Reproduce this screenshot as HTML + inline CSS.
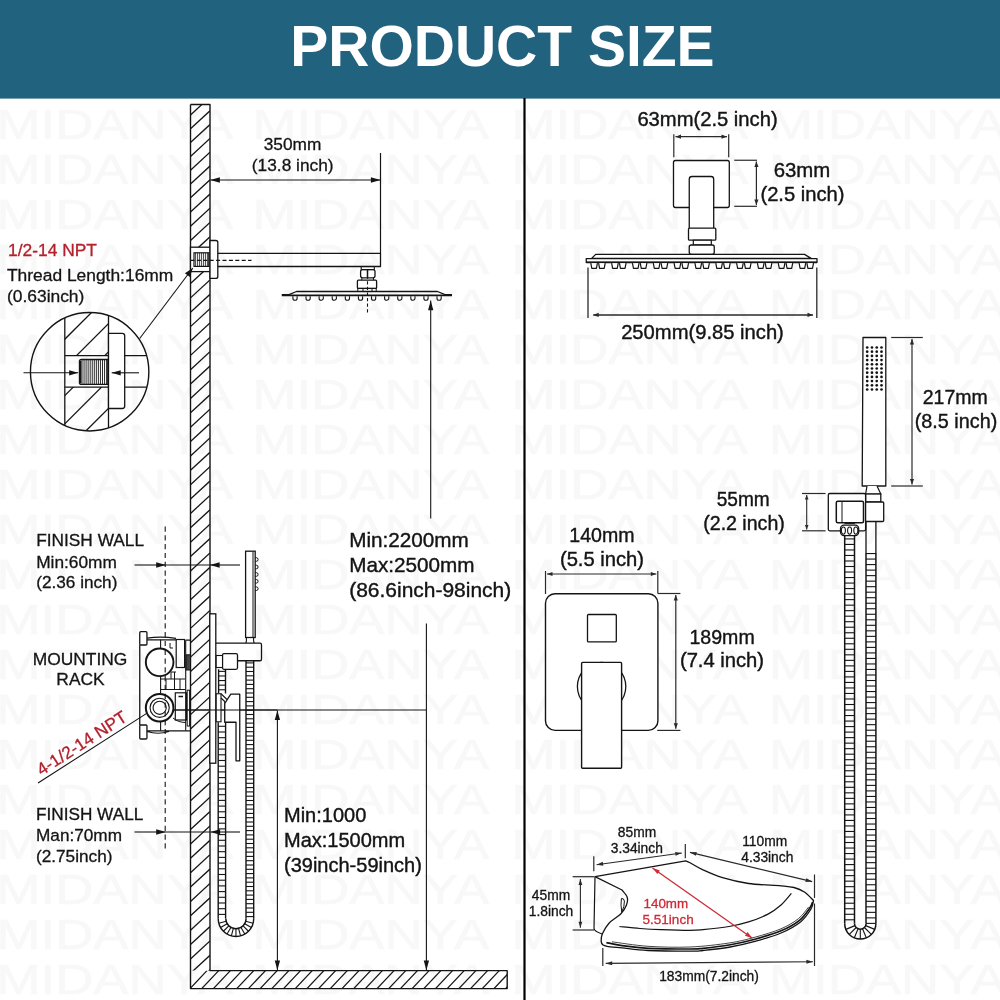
<!DOCTYPE html>
<html lang="en"><head><meta charset="utf-8"><title>Product Size</title>
<style>
html,body{margin:0;padding:0;background:#fff;}
body{width:1000px;height:1000px;overflow:hidden;}
svg{display:block;will-change:transform;font-family:"Liberation Sans",sans-serif;}
</style></head><body>
<svg width="1000" height="1000" viewBox="0 0 1000 1000">
<rect width="1000" height="1000" fill="#ffffff"/>
<g fill="#f8f8f8" stroke="#f8f8f8" stroke-width="0.7" font-size="42.5">
<text transform="translate(-3.5,138.7) scale(1.243,1)">MIDANYA</text>
<text transform="translate(252.5,138.7) scale(1.243,1)">MIDANYA</text>
<text transform="translate(511.5,138.7) scale(1.243,1)">MIDANYA</text>
<text transform="translate(769,138.7) scale(1.243,1)">MIDANYA</text>
<text transform="translate(-3.5,183.7) scale(1.243,1)">MIDANYA</text>
<text transform="translate(252.5,183.7) scale(1.243,1)">MIDANYA</text>
<text transform="translate(511.5,183.7) scale(1.243,1)">MIDANYA</text>
<text transform="translate(769,183.7) scale(1.243,1)">MIDANYA</text>
<text transform="translate(-3.5,228.7) scale(1.243,1)">MIDANYA</text>
<text transform="translate(252.5,228.7) scale(1.243,1)">MIDANYA</text>
<text transform="translate(511.5,228.7) scale(1.243,1)">MIDANYA</text>
<text transform="translate(769,228.7) scale(1.243,1)">MIDANYA</text>
<text transform="translate(-3.5,273.7) scale(1.243,1)">MIDANYA</text>
<text transform="translate(252.5,273.7) scale(1.243,1)">MIDANYA</text>
<text transform="translate(511.5,273.7) scale(1.243,1)">MIDANYA</text>
<text transform="translate(769,273.7) scale(1.243,1)">MIDANYA</text>
<text transform="translate(-3.5,318.7) scale(1.243,1)">MIDANYA</text>
<text transform="translate(252.5,318.7) scale(1.243,1)">MIDANYA</text>
<text transform="translate(511.5,318.7) scale(1.243,1)">MIDANYA</text>
<text transform="translate(769,318.7) scale(1.243,1)">MIDANYA</text>
<text transform="translate(-3.5,363.7) scale(1.243,1)">MIDANYA</text>
<text transform="translate(252.5,363.7) scale(1.243,1)">MIDANYA</text>
<text transform="translate(511.5,363.7) scale(1.243,1)">MIDANYA</text>
<text transform="translate(769,363.7) scale(1.243,1)">MIDANYA</text>
<text transform="translate(-3.5,408.7) scale(1.243,1)">MIDANYA</text>
<text transform="translate(252.5,408.7) scale(1.243,1)">MIDANYA</text>
<text transform="translate(511.5,408.7) scale(1.243,1)">MIDANYA</text>
<text transform="translate(769,408.7) scale(1.243,1)">MIDANYA</text>
<text transform="translate(-3.5,453.7) scale(1.243,1)">MIDANYA</text>
<text transform="translate(252.5,453.7) scale(1.243,1)">MIDANYA</text>
<text transform="translate(511.5,453.7) scale(1.243,1)">MIDANYA</text>
<text transform="translate(769,453.7) scale(1.243,1)">MIDANYA</text>
<text transform="translate(-3.5,498.7) scale(1.243,1)">MIDANYA</text>
<text transform="translate(252.5,498.7) scale(1.243,1)">MIDANYA</text>
<text transform="translate(511.5,498.7) scale(1.243,1)">MIDANYA</text>
<text transform="translate(769,498.7) scale(1.243,1)">MIDANYA</text>
<text transform="translate(-3.5,543.7) scale(1.243,1)">MIDANYA</text>
<text transform="translate(252.5,543.7) scale(1.243,1)">MIDANYA</text>
<text transform="translate(511.5,543.7) scale(1.243,1)">MIDANYA</text>
<text transform="translate(769,543.7) scale(1.243,1)">MIDANYA</text>
<text transform="translate(-3.5,588.7) scale(1.243,1)">MIDANYA</text>
<text transform="translate(252.5,588.7) scale(1.243,1)">MIDANYA</text>
<text transform="translate(511.5,588.7) scale(1.243,1)">MIDANYA</text>
<text transform="translate(769,588.7) scale(1.243,1)">MIDANYA</text>
<text transform="translate(-3.5,633.7) scale(1.243,1)">MIDANYA</text>
<text transform="translate(252.5,633.7) scale(1.243,1)">MIDANYA</text>
<text transform="translate(511.5,633.7) scale(1.243,1)">MIDANYA</text>
<text transform="translate(769,633.7) scale(1.243,1)">MIDANYA</text>
<text transform="translate(-3.5,678.7) scale(1.243,1)">MIDANYA</text>
<text transform="translate(252.5,678.7) scale(1.243,1)">MIDANYA</text>
<text transform="translate(511.5,678.7) scale(1.243,1)">MIDANYA</text>
<text transform="translate(769,678.7) scale(1.243,1)">MIDANYA</text>
<text transform="translate(-3.5,723.7) scale(1.243,1)">MIDANYA</text>
<text transform="translate(252.5,723.7) scale(1.243,1)">MIDANYA</text>
<text transform="translate(511.5,723.7) scale(1.243,1)">MIDANYA</text>
<text transform="translate(769,723.7) scale(1.243,1)">MIDANYA</text>
<text transform="translate(-3.5,768.7) scale(1.243,1)">MIDANYA</text>
<text transform="translate(252.5,768.7) scale(1.243,1)">MIDANYA</text>
<text transform="translate(511.5,768.7) scale(1.243,1)">MIDANYA</text>
<text transform="translate(769,768.7) scale(1.243,1)">MIDANYA</text>
<text transform="translate(-3.5,813.7) scale(1.243,1)">MIDANYA</text>
<text transform="translate(252.5,813.7) scale(1.243,1)">MIDANYA</text>
<text transform="translate(511.5,813.7) scale(1.243,1)">MIDANYA</text>
<text transform="translate(769,813.7) scale(1.243,1)">MIDANYA</text>
<text transform="translate(-3.5,858.7) scale(1.243,1)">MIDANYA</text>
<text transform="translate(252.5,858.7) scale(1.243,1)">MIDANYA</text>
<text transform="translate(511.5,858.7) scale(1.243,1)">MIDANYA</text>
<text transform="translate(769,858.7) scale(1.243,1)">MIDANYA</text>
<text transform="translate(-3.5,903.7) scale(1.243,1)">MIDANYA</text>
<text transform="translate(252.5,903.7) scale(1.243,1)">MIDANYA</text>
<text transform="translate(511.5,903.7) scale(1.243,1)">MIDANYA</text>
<text transform="translate(769,903.7) scale(1.243,1)">MIDANYA</text>
<text transform="translate(-3.5,948.7) scale(1.243,1)">MIDANYA</text>
<text transform="translate(252.5,948.7) scale(1.243,1)">MIDANYA</text>
<text transform="translate(511.5,948.7) scale(1.243,1)">MIDANYA</text>
<text transform="translate(769,948.7) scale(1.243,1)">MIDANYA</text>
<text transform="translate(-3.5,993.7) scale(1.243,1)">MIDANYA</text>
<text transform="translate(252.5,993.7) scale(1.243,1)">MIDANYA</text>
<text transform="translate(511.5,993.7) scale(1.243,1)">MIDANYA</text>
<text transform="translate(769,993.7) scale(1.243,1)">MIDANYA</text>
</g>
<rect x="0" y="0" width="1000" height="98.6" fill="#21627f"/>
<text x="502.4" y="65.8" font-size="57" text-anchor="middle" fill="#ffffff" font-weight="bold">PRODUCT SIZE</text>
<line x1="524.5" y1="98" x2="524.5" y2="1000" stroke="#000" stroke-width="2.2"/>
<defs><clipPath id="cw"><path d="M190.5,104.5 H210 V970.6 H190.5 Z"/></clipPath><clipPath id="cf"><path d="M190.5,970.6 H507.2 V988.6 H190.5 Z"/></clipPath></defs>
<g clip-path="url(#cw)" stroke="#141414" stroke-width="1.3">
<line x1="190.5" y1="115" x2="210" y2="97"/>
<line x1="190.5" y1="128.8" x2="210" y2="110.8"/>
<line x1="190.5" y1="142.6" x2="210" y2="124.6"/>
<line x1="190.5" y1="156.4" x2="210" y2="138.4"/>
<line x1="190.5" y1="170.2" x2="210" y2="152.2"/>
<line x1="190.5" y1="184" x2="210" y2="166"/>
<line x1="190.5" y1="197.8" x2="210" y2="179.8"/>
<line x1="190.5" y1="212" x2="210" y2="194"/>
<line x1="190.5" y1="226.2" x2="210" y2="208.2"/>
<line x1="190.5" y1="240.4" x2="210" y2="222.4"/>
<line x1="190.5" y1="254.77" x2="210" y2="236.77"/>
<line x1="190.5" y1="269.14" x2="210" y2="251.14"/>
<line x1="190.5" y1="283.51" x2="210" y2="265.51"/>
<line x1="190.5" y1="297.88" x2="210" y2="279.88"/>
<line x1="190.5" y1="312.25" x2="210" y2="294.25"/>
<line x1="190.5" y1="326.62" x2="210" y2="308.62"/>
<line x1="190.5" y1="340.99" x2="210" y2="322.99"/>
<line x1="190.5" y1="355.36" x2="210" y2="337.36"/>
<line x1="190.5" y1="369.73" x2="210" y2="351.73"/>
<line x1="190.5" y1="384.1" x2="210" y2="366.1"/>
<line x1="190.5" y1="398.47" x2="210" y2="380.47"/>
<line x1="190.5" y1="412.84" x2="210" y2="394.84"/>
<line x1="190.5" y1="427.21" x2="210" y2="409.21"/>
<line x1="190.5" y1="441.58" x2="210" y2="423.58"/>
<line x1="190.5" y1="455.95" x2="210" y2="437.95"/>
<line x1="190.5" y1="470.32" x2="210" y2="452.32"/>
<line x1="190.5" y1="484.69" x2="210" y2="466.69"/>
<line x1="190.5" y1="499.06" x2="210" y2="481.06"/>
<line x1="190.5" y1="513.43" x2="210" y2="495.43"/>
<line x1="190.5" y1="527.8" x2="210" y2="509.8"/>
<line x1="190.5" y1="542.17" x2="210" y2="524.17"/>
<line x1="190.5" y1="556.54" x2="210" y2="538.54"/>
<line x1="190.5" y1="570.91" x2="210" y2="552.91"/>
<line x1="190.5" y1="585.28" x2="210" y2="567.28"/>
<line x1="190.5" y1="599.65" x2="210" y2="581.65"/>
<line x1="190.5" y1="614.02" x2="210" y2="596.02"/>
<line x1="190.5" y1="628.39" x2="210" y2="610.39"/>
<line x1="190.5" y1="642.76" x2="210" y2="624.76"/>
<line x1="190.5" y1="657.13" x2="210" y2="639.13"/>
<line x1="190.5" y1="671.5" x2="210" y2="653.5"/>
<line x1="190.5" y1="685.87" x2="210" y2="667.87"/>
<line x1="190.5" y1="700.24" x2="210" y2="682.24"/>
<line x1="190.5" y1="714.61" x2="210" y2="696.61"/>
<line x1="190.5" y1="728.98" x2="210" y2="710.98"/>
<line x1="190.5" y1="743.35" x2="210" y2="725.35"/>
<line x1="190.5" y1="757.72" x2="210" y2="739.72"/>
<line x1="190.5" y1="772.09" x2="210" y2="754.09"/>
<line x1="190.5" y1="786.46" x2="210" y2="768.46"/>
<line x1="190.5" y1="800.83" x2="210" y2="782.83"/>
<line x1="190.5" y1="815.2" x2="210" y2="797.2"/>
<line x1="190.5" y1="829.57" x2="210" y2="811.57"/>
<line x1="190.5" y1="843.94" x2="210" y2="825.94"/>
<line x1="190.5" y1="858.31" x2="210" y2="840.31"/>
<line x1="190.5" y1="872.68" x2="210" y2="854.68"/>
<line x1="190.5" y1="887.05" x2="210" y2="869.05"/>
<line x1="190.5" y1="901.42" x2="210" y2="883.42"/>
<line x1="190.5" y1="915.79" x2="210" y2="897.79"/>
<line x1="190.5" y1="930.16" x2="210" y2="912.16"/>
<line x1="190.5" y1="944.53" x2="210" y2="926.53"/>
<line x1="190.5" y1="958.9" x2="210" y2="940.9"/>
<line x1="190.5" y1="973.27" x2="210" y2="955.27"/>
<line x1="190.5" y1="987.64" x2="210" y2="969.64"/>
<line x1="190.5" y1="1002.01" x2="210" y2="984.01"/>
</g>
<g clip-path="url(#cf)" stroke="#141414" stroke-width="1.3">
<line x1="190" y1="988.6" x2="207" y2="970.6"/>
<line x1="201.69" y1="988.6" x2="218.69" y2="970.6"/>
<line x1="213.38" y1="988.6" x2="230.38" y2="970.6"/>
<line x1="225.07" y1="988.6" x2="242.07" y2="970.6"/>
<line x1="236.76" y1="988.6" x2="253.76" y2="970.6"/>
<line x1="248.45" y1="988.6" x2="265.45" y2="970.6"/>
<line x1="260.14" y1="988.6" x2="277.14" y2="970.6"/>
<line x1="271.83" y1="988.6" x2="288.83" y2="970.6"/>
<line x1="283.52" y1="988.6" x2="300.52" y2="970.6"/>
<line x1="295.21" y1="988.6" x2="312.21" y2="970.6"/>
<line x1="306.9" y1="988.6" x2="323.9" y2="970.6"/>
<line x1="318.59" y1="988.6" x2="335.59" y2="970.6"/>
<line x1="330.28" y1="988.6" x2="347.28" y2="970.6"/>
<line x1="341.97" y1="988.6" x2="358.97" y2="970.6"/>
<line x1="353.66" y1="988.6" x2="370.66" y2="970.6"/>
<line x1="365.35" y1="988.6" x2="382.35" y2="970.6"/>
<line x1="377.04" y1="988.6" x2="394.04" y2="970.6"/>
<line x1="388.73" y1="988.6" x2="405.73" y2="970.6"/>
<line x1="400.42" y1="988.6" x2="417.42" y2="970.6"/>
<line x1="412.11" y1="988.6" x2="429.11" y2="970.6"/>
<line x1="423.8" y1="988.6" x2="440.8" y2="970.6"/>
<line x1="435.49" y1="988.6" x2="452.49" y2="970.6"/>
<line x1="447.18" y1="988.6" x2="464.18" y2="970.6"/>
<line x1="458.87" y1="988.6" x2="475.87" y2="970.6"/>
<line x1="470.56" y1="988.6" x2="487.56" y2="970.6"/>
<line x1="482.25" y1="988.6" x2="499.25" y2="970.6"/>
<line x1="493.94" y1="988.6" x2="510.94" y2="970.6"/>
<line x1="505.63" y1="988.6" x2="522.63" y2="970.6"/>
<line x1="517.32" y1="988.6" x2="534.32" y2="970.6"/>
<line x1="529.01" y1="988.6" x2="546.01" y2="970.6"/>
</g>
<path d="M190.5,104.5 H210 V970.6 H507.2 V988.6 H190.5 V104.5" fill="none" stroke="#141414" stroke-width="1.4" stroke-linejoin="round"/>
<line x1="210.3" y1="180" x2="380.5" y2="180" stroke="#141414" stroke-width="1.1"/>
<polygon points="380.5,180 370.9,182.65 370.9,177.35" fill="#141414"/>
<polygon points="210.3,180 219.9,177.35 219.9,182.65" fill="#141414"/>
<line x1="380.5" y1="153" x2="380.5" y2="253.4" stroke="#141414" stroke-width="1.2"/>
<text x="292.5" y="149.6" font-size="17.3" text-anchor="middle" fill="#141414" stroke="#141414" stroke-width="0.3">350mm</text>
<text x="292.7" y="171.3" font-size="17.3" text-anchor="middle" fill="#141414" stroke="#141414" stroke-width="0.3">(13.8 inch)</text>
<rect x="190.5" y="247.2" width="19.5" height="24.4" fill="#fff" stroke="#141414" stroke-width="1.3"/>
<g stroke="#141414" stroke-width="0.8">
<line x1="195.6" y1="252.8" x2="195.6" y2="266.4"/>
<line x1="197.6" y1="252.8" x2="197.6" y2="266.4"/>
<line x1="199.6" y1="252.8" x2="199.6" y2="266.4"/>
<line x1="201.6" y1="252.8" x2="201.6" y2="266.4"/>
<line x1="203.6" y1="252.8" x2="203.6" y2="266.4"/>
<line x1="205.6" y1="252.8" x2="205.6" y2="266.4"/>
<line x1="207.6" y1="252.8" x2="207.6" y2="266.4"/>
</g>
<rect x="194" y="252.8" width="14.8" height="13.6" fill="none" stroke="#141414" stroke-width="1.2"/>
<path d="M210,240.5 H215.8 Q217.8,240.5 217.8,242.5 V276.4 Q217.8,278.4 215.8,278.4 H210 Z" fill="#fff" stroke="#141414" stroke-width="1.3" stroke-linejoin="round"/>
<path d="M217.8,253.4 H380.5 V266.5 H217.8" fill="none" stroke="#141414" stroke-width="1.3" stroke-linejoin="round"/>
<line x1="190.5" y1="260.4" x2="251.5" y2="260.4" stroke="#141414" stroke-width="1.1" stroke-dasharray="4 2.4"/>
<rect x="361.2" y="266.5" width="13.1" height="3.1" fill="none" stroke="#141414" stroke-width="1.1"/>
<rect x="360.6" y="269.6" width="14.4" height="8.2" rx="2" fill="none" stroke="#141414" stroke-width="1.3"/>
<line x1="367.5" y1="270" x2="367.5" y2="277.5" stroke="#141414" stroke-width="1.5"/>
<line x1="361.8" y1="277.8" x2="361.8" y2="280.2" stroke="#141414" stroke-width="1.0"/>
<line x1="373.5" y1="277.8" x2="373.5" y2="280.2" stroke="#141414" stroke-width="1.0"/>
<rect x="357.4" y="280.2" width="19.2" height="8.2" rx="1" fill="none" stroke="#141414" stroke-width="1.3"/>
<rect x="357.8" y="288.4" width="18.4" height="3.1" fill="none" stroke="#141414" stroke-width="1.0"/>
<line x1="363" y1="288.4" x2="363" y2="291.5" stroke="#141414" stroke-width="1.0"/>
<line x1="372" y1="288.4" x2="372" y2="291.5" stroke="#141414" stroke-width="1.0"/>
<path d="M296.5,291.5 H437.5 L445,294.6 H452 M281.8,294.6 H289 L296.5,291.5" fill="none" stroke="#141414" stroke-width="1.3" stroke-linejoin="round"/>
<line x1="281.8" y1="295.4" x2="452" y2="295.4" stroke="#141414" stroke-width="1.8"/>
<path d="M292.9,296.2 V298.2 A2.1,2.1 0 0 0 297.1,298.2 V296.2" fill="none" stroke="#141414" stroke-width="1.1" stroke-linejoin="round"/>
<path d="M306,296.2 V298.2 A2.1,2.1 0 0 0 310.2,298.2 V296.2" fill="none" stroke="#141414" stroke-width="1.1" stroke-linejoin="round"/>
<path d="M319.1,296.2 V298.2 A2.1,2.1 0 0 0 323.3,298.2 V296.2" fill="none" stroke="#141414" stroke-width="1.1" stroke-linejoin="round"/>
<path d="M332.2,296.2 V298.2 A2.1,2.1 0 0 0 336.4,298.2 V296.2" fill="none" stroke="#141414" stroke-width="1.1" stroke-linejoin="round"/>
<path d="M345.3,296.2 V298.2 A2.1,2.1 0 0 0 349.5,298.2 V296.2" fill="none" stroke="#141414" stroke-width="1.1" stroke-linejoin="round"/>
<path d="M358.4,296.2 V298.2 A2.1,2.1 0 0 0 362.6,298.2 V296.2" fill="none" stroke="#141414" stroke-width="1.1" stroke-linejoin="round"/>
<path d="M371.5,296.2 V298.2 A2.1,2.1 0 0 0 375.7,298.2 V296.2" fill="none" stroke="#141414" stroke-width="1.1" stroke-linejoin="round"/>
<path d="M384.6,296.2 V298.2 A2.1,2.1 0 0 0 388.8,298.2 V296.2" fill="none" stroke="#141414" stroke-width="1.1" stroke-linejoin="round"/>
<path d="M397.7,296.2 V298.2 A2.1,2.1 0 0 0 401.9,298.2 V296.2" fill="none" stroke="#141414" stroke-width="1.1" stroke-linejoin="round"/>
<path d="M410.8,296.2 V298.2 A2.1,2.1 0 0 0 415,298.2 V296.2" fill="none" stroke="#141414" stroke-width="1.1" stroke-linejoin="round"/>
<path d="M423.9,296.2 V298.2 A2.1,2.1 0 0 0 428.1,298.2 V296.2" fill="none" stroke="#141414" stroke-width="1.1" stroke-linejoin="round"/>
<path d="M437,296.2 V298.2 A2.1,2.1 0 0 0 441.2,298.2 V296.2" fill="none" stroke="#141414" stroke-width="1.1" stroke-linejoin="round"/>
<line x1="367.5" y1="270" x2="367.5" y2="314.5" stroke="#141414" stroke-width="1.1" stroke-dasharray="3.2 2.4"/>
<line x1="430.7" y1="518.5" x2="430.7" y2="300.6" stroke="#141414" stroke-width="1.1"/>
<polygon points="430.7,300.6 433.35,310.2 428.05,310.2" fill="#141414"/>
<line x1="426.4" y1="623.6" x2="426.4" y2="970.2" stroke="#141414" stroke-width="1.1"/>
<polygon points="426.4,970.2 423.75,960.6 429.05,960.6" fill="#141414"/>
<text x="349.2" y="546.9" font-size="20.7" fill="#141414" stroke="#141414" stroke-width="0.4">Min:2200mm</text>
<text x="349.2" y="571.8" font-size="20.7" fill="#141414" stroke="#141414" stroke-width="0.4">Max:2500mm</text>
<text transform="translate(349.2,596.8) scale(1.014,1)" font-size="20.7" fill="#141414" stroke="#141414" stroke-width="0.4">(86.6inch-98inch)</text>
<line x1="173.6" y1="710" x2="426.4" y2="710" stroke="#141414" stroke-width="1.1"/>
<line x1="277.4" y1="710.4" x2="277.4" y2="970.2" stroke="#141414" stroke-width="1.1"/>
<polygon points="277.4,970.2 274.75,960.6 280.05,960.6" fill="#141414"/>
<polygon points="277.4,710.4 280.05,720 274.75,720" fill="#141414"/>
<text x="284" y="821.6" font-size="20" fill="#141414" stroke="#141414" stroke-width="0.4">Min:1000</text>
<text x="284" y="846.6" font-size="20" fill="#141414" stroke="#141414" stroke-width="0.4">Max:1500mm</text>
<text x="284" y="871.6" font-size="20" fill="#141414" stroke="#141414" stroke-width="0.4">(39inch-59inch)</text>
<text x="8" y="256.4" font-size="17.4" fill="#b3202c" stroke="#b3202c" stroke-width="0.3">1/2-14 NPT</text>
<text x="7" y="281.1" font-size="17.4" fill="#141414" stroke="#141414" stroke-width="0.3">Thread Length:16mm</text>
<text x="7" y="302.2" font-size="17.4" fill="#141414" stroke="#141414" stroke-width="0.3">(0.63inch)</text>
<defs><clipPath id="cc"><circle cx="89.65" cy="371.75" r="59.2"/></clipPath><clipPath id="ch"><path d="M64.8,300 H108.5 V355.7 H64.8 Z M64.8,387.1 H108.5 V440 H64.8 Z"/></clipPath></defs>
<g clip-path="url(#cc)">
<g clip-path="url(#ch)" stroke="#141414" stroke-width="1.3">
<line x1="60" y1="344" x2="112" y2="292"/>
<line x1="60" y1="372.2" x2="112" y2="320.2"/>
<line x1="60" y1="400.4" x2="112" y2="348.4"/>
<line x1="60" y1="428.6" x2="112" y2="376.6"/>
<line x1="60" y1="456.8" x2="112" y2="404.8"/>
</g>
<line x1="64.8" y1="300" x2="64.8" y2="440" stroke="#141414" stroke-width="1.3"/>
<line x1="108.5" y1="300" x2="108.5" y2="440" stroke="#141414" stroke-width="1.3"/>
<line x1="64.8" y1="355.7" x2="108.5" y2="355.7" stroke="#141414" stroke-width="1.3"/>
<line x1="64.8" y1="387.1" x2="108.5" y2="387.1" stroke="#141414" stroke-width="1.3"/>
<g stroke="#141414" stroke-width="0.9">
<line x1="82" y1="359.5" x2="82" y2="384.4"/>
<line x1="84.05" y1="359.5" x2="84.05" y2="384.4"/>
<line x1="86.1" y1="359.5" x2="86.1" y2="384.4"/>
<line x1="88.15" y1="359.5" x2="88.15" y2="384.4"/>
<line x1="90.2" y1="359.5" x2="90.2" y2="384.4"/>
<line x1="92.25" y1="359.5" x2="92.25" y2="384.4"/>
<line x1="94.3" y1="359.5" x2="94.3" y2="384.4"/>
<line x1="96.35" y1="359.5" x2="96.35" y2="384.4"/>
<line x1="98.4" y1="359.5" x2="98.4" y2="384.4"/>
<line x1="100.45" y1="359.5" x2="100.45" y2="384.4"/>
<line x1="102.5" y1="359.5" x2="102.5" y2="384.4"/>
<line x1="104.55" y1="359.5" x2="104.55" y2="384.4"/>
<line x1="106.6" y1="359.5" x2="106.6" y2="384.4"/>
</g>
<path d="M107.9,359.5 H81.5 Q79.5,359.5 79.5,361.5 V382.4 Q79.5,384.4 81.5,384.4 H107.9 Z" fill="none" stroke="#141414" stroke-width="1.4" stroke-linejoin="round"/>
<line x1="80.6" y1="361" x2="80.6" y2="383" stroke="#141414" stroke-width="1.6"/>
<path d="M108.5,333.3 H122.2 Q124.7,333.3 124.7,335.8 V406 Q124.7,408.5 122.2,408.5 H108.5 Z" fill="#fff" stroke="#141414" stroke-width="1.3" stroke-linejoin="round"/>
<line x1="124.7" y1="355.7" x2="150" y2="355.7" stroke="#141414" stroke-width="1.3"/>
<line x1="124.7" y1="387.1" x2="150" y2="387.1" stroke="#141414" stroke-width="1.3"/>
</g>
<circle cx="89.65" cy="371.75" r="59.2" fill="none" stroke="#141414" stroke-width="1.4"/>
<line x1="23.5" y1="372.8" x2="78.2" y2="372.8" stroke="#141414" stroke-width="1.1"/>
<polygon points="78.2,372.8 69.2,375.4 69.2,370.2" fill="#141414"/>
<line x1="139" y1="372.8" x2="111.7" y2="372.8" stroke="#141414" stroke-width="1.1"/>
<polygon points="111.7,372.8 120.7,370.2 120.7,375.4" fill="#141414"/>
<line x1="139.7" y1="338.5" x2="192.8" y2="268" stroke="#141414" stroke-width="1.1"/>
<polygon points="192.8,268 189.86,277.05 184.91,273.32" fill="#141414"/>
<text x="36.2" y="546.3" font-size="17.3" fill="#141414" stroke="#141414" stroke-width="0.3">FINISH WALL</text>
<text x="36.2" y="567.9" font-size="17.3" fill="#141414" stroke="#141414" stroke-width="0.3">Min:60mm</text>
<text x="36.2" y="587.6" font-size="17.2" fill="#141414" stroke="#141414" stroke-width="0.3">(2.36 inch)</text>
<line x1="134.5" y1="565" x2="165.8" y2="565" stroke="#141414" stroke-width="1.1"/>
<polygon points="165.8,565 156.2,567.65 156.2,562.35" fill="#141414"/>
<line x1="165.8" y1="565" x2="210" y2="565" stroke="#141414" stroke-width="1.1"/>
<line x1="240" y1="565" x2="210" y2="565" stroke="#141414" stroke-width="1.1"/>
<polygon points="210,565 219.6,562.35 219.6,567.65" fill="#141414"/>
<text x="80" y="664.6" font-size="17.4" text-anchor="middle" fill="#141414" stroke="#141414" stroke-width="0.3">MOUNTING</text>
<text x="80.5" y="685" font-size="17.4" text-anchor="middle" fill="#141414" stroke="#141414" stroke-width="0.3">RACK</text>
<text x="36" y="820" font-size="17.2" fill="#141414" stroke="#141414" stroke-width="0.3">FINISH WALL</text>
<text x="36" y="840.5" font-size="17.2" fill="#141414" stroke="#141414" stroke-width="0.3">Man:70mm</text>
<text x="36" y="861.5" font-size="17.2" fill="#141414" stroke="#141414" stroke-width="0.3">(2.75inch)</text>
<line x1="134.5" y1="832" x2="165.8" y2="832" stroke="#141414" stroke-width="1.1"/>
<polygon points="165.8,832 156.2,834.65 156.2,829.35" fill="#141414"/>
<line x1="165.8" y1="832" x2="210" y2="832" stroke="#141414" stroke-width="1.1"/>
<line x1="240" y1="832" x2="210.5" y2="832" stroke="#141414" stroke-width="1.1"/>
<polygon points="210.5,832 220.1,829.35 220.1,834.65" fill="#141414"/>
<line x1="38" y1="783" x2="146.3" y2="713.6" stroke="#141414" stroke-width="1.1"/>
<text x="0" y="0" font-size="17.2" fill="#b3202c" stroke="#b3202c" stroke-width="0.3" transform="translate(41.5,776) rotate(-32.8)">4-1/2-14 NPT</text>
<rect x="139.75" y="631.7" width="7.2" height="13.3" rx="1" fill="#fff" stroke="#141414" stroke-width="1.3"/>
<rect x="139.75" y="725" width="7.2" height="14" rx="1" fill="#fff" stroke="#141414" stroke-width="1.3"/>
<line x1="139.75" y1="645" x2="139.75" y2="725" stroke="#141414" stroke-width="1.3"/>
<path d="M147,638.2 Q161,636 176,638.4 M147,639.8 H176.2 M185.7,640.2 H190.5" fill="none" stroke="#141414" stroke-width="1.2" stroke-linejoin="round"/>
<path d="M147,730.8 H190.5 M147,731.5 Q158,735 169,731.5" fill="none" stroke="#141414" stroke-width="1.2" stroke-linejoin="round"/>
<line x1="160.6" y1="639.8" x2="160.6" y2="649" stroke="#141414" stroke-width="1.1"/>
<line x1="160.6" y1="676" x2="160.6" y2="693.5" stroke="#141414" stroke-width="1.1"/>
<line x1="160.6" y1="722" x2="160.6" y2="730.8" stroke="#141414" stroke-width="1.1"/>
<rect x="176.2" y="639.5" width="8.4" height="28" fill="none" stroke="#141414" stroke-width="1.2"/>
<line x1="185.7" y1="640.2" x2="185.7" y2="730.8" stroke="#141414" stroke-width="1.1"/>
<path d="M170,643 V648 H173 M176,672 H171 V679 M160.6,679 H185 M160.6,689.5 H185 M166,679 V689.5 M174.5,672 V689.5 M180,679 V689.5" fill="none" stroke="#141414" stroke-width="1.0" stroke-linejoin="round"/>
<rect x="186.2" y="654.8" width="4.3" height="15.2" fill="#444" stroke="#141414" stroke-width="1.0"/>
<rect x="175.3" y="692.8" width="11.1" height="27.2" fill="none" stroke="#141414" stroke-width="1.2"/>
<line x1="178.5" y1="696.5" x2="183" y2="696.5" stroke="#141414" stroke-width="1.5"/>
<rect x="187.2" y="690.2" width="2.4" height="35.8" fill="none" stroke="#141414" stroke-width="1.0"/>
<path d="M173,718 Q178,722.5 186,722.5" fill="none" stroke="#141414" stroke-width="1.0" stroke-linejoin="round"/>
<circle cx="159.65" cy="662.3" r="13.8" fill="#fff" stroke="#141414" stroke-width="1.9"/>
<circle cx="159.65" cy="707.8" r="13.8" fill="#fff" stroke="#141414" stroke-width="2.0"/>
<circle cx="159.65" cy="707.8" r="9.6" fill="none" stroke="#141414" stroke-width="1.1"/>
<circle cx="159.65" cy="707.8" r="6.6" fill="none" stroke="#141414" stroke-width="1.1"/>
<line x1="165.2" y1="526.5" x2="165.2" y2="851.2" stroke="#141414" stroke-width="1.1" stroke-dasharray="5.2 3.6"/>
<rect x="209.8" y="613.8" width="6" height="149.4" fill="#fff" stroke="#141414" stroke-width="1.3"/>
<rect x="245.6" y="551.2" width="9.6" height="86.3" fill="#fff" stroke="#141414" stroke-width="1.3"/>
<line x1="253" y1="552" x2="253" y2="637" stroke="#141414" stroke-width="1.0"/>
<path d="M255.2,557.7 H256.3 A1.8,1.8 0 0 1 256.3,561.3 H255.2" fill="none" stroke="#141414" stroke-width="1.0" stroke-linejoin="round"/>
<path d="M255.2,565.2 H256.3 A1.8,1.8 0 0 1 256.3,568.8 H255.2" fill="none" stroke="#141414" stroke-width="1.0" stroke-linejoin="round"/>
<path d="M255.2,572.7 H256.3 A1.8,1.8 0 0 1 256.3,576.3 H255.2" fill="none" stroke="#141414" stroke-width="1.0" stroke-linejoin="round"/>
<path d="M255.2,579.5 H256.3 A1.8,1.8 0 0 1 256.3,583.1 H255.2" fill="none" stroke="#141414" stroke-width="1.0" stroke-linejoin="round"/>
<path d="M255.2,586.9 H256.3 A1.8,1.8 0 0 1 256.3,590.5 H255.2" fill="none" stroke="#141414" stroke-width="1.0" stroke-linejoin="round"/>
<path d="M246.4,637.5 V641 L245.8,643.2 M253.6,637.5 V641 L254.2,643.2" fill="none" stroke="#141414" stroke-width="1.1" stroke-linejoin="round"/>
<line x1="218.6" y1="669.3" x2="218.6" y2="693.5" stroke="#141414" stroke-width="1.4"/>
<line x1="225.5" y1="669.3" x2="225.5" y2="693.5" stroke="#141414" stroke-width="1.4"/>
<g stroke="#141414" stroke-width="1.1">
<line x1="218.6" y1="671.37" x2="225.5" y2="671.37"/>
<line x1="218.6" y1="675.97" x2="225.5" y2="675.97"/>
<line x1="218.6" y1="680.57" x2="225.5" y2="680.57"/>
<line x1="218.6" y1="685.17" x2="225.5" y2="685.17"/>
<line x1="218.6" y1="689.77" x2="225.5" y2="689.77"/>
</g>
<line x1="218.2" y1="722.3" x2="218.2" y2="918.7" stroke="#141414" stroke-width="1.4"/>
<line x1="225.6" y1="722.3" x2="225.6" y2="918.7" stroke="#141414" stroke-width="1.4"/>
<g stroke="#141414" stroke-width="1.1">
<line x1="218.2" y1="726.29" x2="225.6" y2="726.29"/>
<line x1="218.2" y1="731.99" x2="225.6" y2="731.99"/>
<line x1="218.2" y1="737.69" x2="225.6" y2="737.69"/>
<line x1="218.2" y1="743.39" x2="225.6" y2="743.39"/>
<line x1="218.2" y1="749.09" x2="225.6" y2="749.09"/>
<line x1="218.2" y1="754.79" x2="225.6" y2="754.79"/>
<line x1="218.2" y1="760.49" x2="225.6" y2="760.49"/>
<line x1="218.2" y1="766.19" x2="225.6" y2="766.19"/>
<line x1="218.2" y1="771.89" x2="225.6" y2="771.89"/>
<line x1="218.2" y1="777.59" x2="225.6" y2="777.59"/>
<line x1="218.2" y1="783.29" x2="225.6" y2="783.29"/>
<line x1="218.2" y1="788.99" x2="225.6" y2="788.99"/>
<line x1="218.2" y1="794.69" x2="225.6" y2="794.69"/>
<line x1="218.2" y1="800.39" x2="225.6" y2="800.39"/>
<line x1="218.2" y1="806.09" x2="225.6" y2="806.09"/>
<line x1="218.2" y1="811.79" x2="225.6" y2="811.79"/>
<line x1="218.2" y1="817.49" x2="225.6" y2="817.49"/>
<line x1="218.2" y1="823.19" x2="225.6" y2="823.19"/>
<line x1="218.2" y1="828.89" x2="225.6" y2="828.89"/>
<line x1="218.2" y1="834.59" x2="225.6" y2="834.59"/>
<line x1="218.2" y1="840.29" x2="225.6" y2="840.29"/>
<line x1="218.2" y1="845.99" x2="225.6" y2="845.99"/>
<line x1="218.2" y1="851.69" x2="225.6" y2="851.69"/>
<line x1="218.2" y1="857.39" x2="225.6" y2="857.39"/>
<line x1="218.2" y1="863.09" x2="225.6" y2="863.09"/>
<line x1="218.2" y1="868.79" x2="225.6" y2="868.79"/>
<line x1="218.2" y1="874.49" x2="225.6" y2="874.49"/>
<line x1="218.2" y1="880.19" x2="225.6" y2="880.19"/>
<line x1="218.2" y1="885.89" x2="225.6" y2="885.89"/>
<line x1="218.2" y1="891.59" x2="225.6" y2="891.59"/>
<line x1="218.2" y1="897.29" x2="225.6" y2="897.29"/>
<line x1="218.2" y1="902.99" x2="225.6" y2="902.99"/>
<line x1="218.2" y1="908.69" x2="225.6" y2="908.69"/>
<line x1="218.2" y1="914.39" x2="225.6" y2="914.39"/>
</g>
<line x1="246" y1="660.75" x2="246" y2="918.7" stroke="#141414" stroke-width="1.4"/>
<line x1="253.7" y1="660.75" x2="253.7" y2="918.7" stroke="#141414" stroke-width="1.4"/>
<g stroke="#141414" stroke-width="1.1">
<line x1="246" y1="662.9" x2="253.7" y2="662.9"/>
<line x1="246" y1="667.2" x2="253.7" y2="667.2"/>
<line x1="246" y1="671.5" x2="253.7" y2="671.5"/>
<line x1="246" y1="675.8" x2="253.7" y2="675.8"/>
<line x1="246" y1="680.1" x2="253.7" y2="680.1"/>
<line x1="246" y1="684.4" x2="253.7" y2="684.4"/>
<line x1="246" y1="688.7" x2="253.7" y2="688.7"/>
<line x1="246" y1="693" x2="253.7" y2="693"/>
<line x1="246" y1="697.3" x2="253.7" y2="697.3"/>
<line x1="246" y1="701.6" x2="253.7" y2="701.6"/>
<line x1="246" y1="705.9" x2="253.7" y2="705.9"/>
<line x1="246" y1="710.2" x2="253.7" y2="710.2"/>
<line x1="246" y1="714.5" x2="253.7" y2="714.5"/>
<line x1="246" y1="718.8" x2="253.7" y2="718.8"/>
<line x1="246" y1="723.1" x2="253.7" y2="723.1"/>
<line x1="246" y1="727.4" x2="253.7" y2="727.4"/>
<line x1="246" y1="731.7" x2="253.7" y2="731.7"/>
<line x1="246" y1="736" x2="253.7" y2="736"/>
<line x1="246" y1="740.3" x2="253.7" y2="740.3"/>
<line x1="246" y1="744.6" x2="253.7" y2="744.6"/>
<line x1="246" y1="748.9" x2="253.7" y2="748.9"/>
<line x1="246" y1="753.2" x2="253.7" y2="753.2"/>
<line x1="246" y1="757.5" x2="253.7" y2="757.5"/>
<line x1="246" y1="761.8" x2="253.7" y2="761.8"/>
<line x1="246" y1="766.1" x2="253.7" y2="766.1"/>
<line x1="246" y1="770.4" x2="253.7" y2="770.4"/>
<line x1="246" y1="774.7" x2="253.7" y2="774.7"/>
<line x1="246" y1="779" x2="253.7" y2="779"/>
<line x1="246" y1="783.3" x2="253.7" y2="783.3"/>
<line x1="246" y1="787.6" x2="253.7" y2="787.6"/>
<line x1="246" y1="791.9" x2="253.7" y2="791.9"/>
<line x1="246" y1="796.2" x2="253.7" y2="796.2"/>
<line x1="246" y1="800.5" x2="253.7" y2="800.5"/>
<line x1="246" y1="804.8" x2="253.7" y2="804.8"/>
<line x1="246" y1="809.1" x2="253.7" y2="809.1"/>
<line x1="246" y1="813.4" x2="253.7" y2="813.4"/>
<line x1="246" y1="817.7" x2="253.7" y2="817.7"/>
<line x1="246" y1="822" x2="253.7" y2="822"/>
<line x1="246" y1="826.3" x2="253.7" y2="826.3"/>
<line x1="246" y1="830.6" x2="253.7" y2="830.6"/>
<line x1="246" y1="834.9" x2="253.7" y2="834.9"/>
<line x1="246" y1="839.2" x2="253.7" y2="839.2"/>
<line x1="246" y1="843.5" x2="253.7" y2="843.5"/>
<line x1="246" y1="847.8" x2="253.7" y2="847.8"/>
<line x1="246" y1="852.1" x2="253.7" y2="852.1"/>
<line x1="246" y1="856.4" x2="253.7" y2="856.4"/>
<line x1="246" y1="860.7" x2="253.7" y2="860.7"/>
<line x1="246" y1="865" x2="253.7" y2="865"/>
<line x1="246" y1="869.3" x2="253.7" y2="869.3"/>
<line x1="246" y1="873.6" x2="253.7" y2="873.6"/>
<line x1="246" y1="877.9" x2="253.7" y2="877.9"/>
<line x1="246" y1="882.2" x2="253.7" y2="882.2"/>
<line x1="246" y1="886.5" x2="253.7" y2="886.5"/>
<line x1="246" y1="890.8" x2="253.7" y2="890.8"/>
<line x1="246" y1="895.1" x2="253.7" y2="895.1"/>
<line x1="246" y1="899.4" x2="253.7" y2="899.4"/>
<line x1="246" y1="903.7" x2="253.7" y2="903.7"/>
<line x1="246" y1="908" x2="253.7" y2="908"/>
<line x1="246" y1="912.3" x2="253.7" y2="912.3"/>
<line x1="246" y1="916.6" x2="253.7" y2="916.6"/>
</g>
<path d="M218.2,918.7 A17.75,17.75 0 0 0 253.7,918.7" fill="none" stroke="#141414" stroke-width="1.4" stroke-linejoin="round"/>
<path d="M225.85,918.7 A10.1,10.1 0 0 0 246.05,918.7" fill="none" stroke="#141414" stroke-width="1.4" stroke-linejoin="round"/>
<g stroke="#141414" stroke-width="1.1">
<line x1="245.71" y1="921.31" x2="253.1" y2="923.29"/>
<line x1="244.7" y1="923.75" x2="251.32" y2="927.58"/>
<line x1="243.09" y1="925.84" x2="248.5" y2="931.25"/>
<line x1="241" y1="927.45" x2="244.82" y2="934.07"/>
<line x1="238.56" y1="928.46" x2="240.54" y2="935.85"/>
<line x1="235.95" y1="928.8" x2="235.95" y2="936.45"/>
<line x1="233.34" y1="928.46" x2="231.36" y2="935.85"/>
<line x1="230.9" y1="927.45" x2="227.07" y2="934.07"/>
<line x1="228.81" y1="925.84" x2="223.4" y2="931.25"/>
<line x1="227.2" y1="923.75" x2="220.58" y2="927.58"/>
<line x1="226.19" y1="921.31" x2="218.8" y2="923.29"/>
</g>
<path d="M215.8,643.2 H260 Q261.5,643.2 261.5,644.7 V659.2 Q261.5,660.75 260,660.75 H237.5" fill="none" stroke="#141414" stroke-width="1.3" stroke-linejoin="round"/>
<rect x="222.5" y="653.7" width="15" height="15.6" rx="1.5" fill="#fff" stroke="#141414" stroke-width="1.3"/>
<rect x="216.2" y="655.5" width="6.3" height="12" fill="#fff" stroke="#141414" stroke-width="1.1"/>
<rect x="216.2" y="693.75" width="4.8" height="28.05" fill="#fff" stroke="#141414" stroke-width="1.1"/>
<path d="M221,693.75 L227,699.5 M221,698 L224.75,701.5 V722.25" fill="none" stroke="#141414" stroke-width="1.1" stroke-linejoin="round"/>
<path d="M230.75,694.2 H239.75 V760.8 H236 V722.25 H224.75 V703.5 Z" fill="#fff" stroke="#141414" stroke-width="1.3" stroke-linejoin="round"/>
<line x1="173.6" y1="710" x2="277.4" y2="710" stroke="#141414" stroke-width="1.1"/>
<text x="707.5" y="125.5" font-size="20.2" text-anchor="middle" fill="#141414" stroke="#141414" stroke-width="0.4">63mm(2.5 inch)</text>
<line x1="675.5" y1="136.7" x2="727" y2="136.7" stroke="#2a2a2a" stroke-width="1.2"/>
<polygon points="727,136.7 721.5,138.8 721.5,134.6" fill="#2a2a2a"/>
<polygon points="675.5,136.7 681,134.6 681,138.8" fill="#2a2a2a"/>
<line x1="673.8" y1="134.3" x2="673.8" y2="157.2" stroke="#2a2a2a" stroke-width="1.2"/>
<line x1="728.7" y1="134.3" x2="728.7" y2="157.2" stroke="#2a2a2a" stroke-width="1.2"/>
<rect x="673.5" y="160.5" width="55.8" height="47" rx="2" fill="#fff" stroke="#141414" stroke-width="1.3"/>
<path d="M689.25,228.2 V179.2 Q689.25,176.5 692,176.5 H711 Q713.7,176.5 713.7,179.2 V228.2" fill="#fff" stroke="#141414" stroke-width="1.3" stroke-linejoin="round"/>
<rect x="688.5" y="228.2" width="27.3" height="12" rx="1" fill="#fff" stroke="#141414" stroke-width="1.3"/>
<rect x="693.3" y="240.2" width="18" height="4.8" fill="#fff" stroke="#141414" stroke-width="1.2"/>
<rect x="689.25" y="245" width="25" height="9.3" rx="2" fill="#fff" stroke="#141414" stroke-width="1.3"/>
<line x1="734.25" y1="160.25" x2="757" y2="160.25" stroke="#2a2a2a" stroke-width="1.2"/>
<line x1="734.25" y1="206.3" x2="757" y2="206.3" stroke="#2a2a2a" stroke-width="1.2"/>
<line x1="756.4" y1="161.5" x2="756.4" y2="205" stroke="#2a2a2a" stroke-width="1.2"/>
<polygon points="756.4,205 754.3,199.5 758.5,199.5" fill="#2a2a2a"/>
<polygon points="756.4,161.5 758.5,167 754.3,167" fill="#2a2a2a"/>
<text transform="translate(802,176.7) scale(1.01,1)" font-size="20.2" text-anchor="middle" fill="#141414" stroke="#141414" stroke-width="0.4">63mm</text>
<text x="802.5" y="200.5" font-size="20.2" text-anchor="middle" fill="#141414" stroke="#141414" stroke-width="0.4">(2.5 inch)</text>
<path d="M595.7,254.4 H804.5 L811.2,258.4 H591.6 Z" fill="#fff" stroke="#141414" stroke-width="1.3" stroke-linejoin="round"/>
<path d="M586.25,258.6 H817 V262.4 H586.25 Z" fill="#fff" stroke="#141414" stroke-width="1.3" stroke-linejoin="round"/>
<line x1="586.25" y1="262.4" x2="817" y2="262.4" stroke="#141414" stroke-width="1.9"/>
<path d="M590.8,263.2 L591.8,268.3 H596.4 L597.4,263.2" fill="#fff" stroke="#141414" stroke-width="1.2" stroke-linejoin="round"/>
<path d="M598.6,263.2 L599.6,268.3 H604.2 L605.2,263.2" fill="#fff" stroke="#141414" stroke-width="1.2" stroke-linejoin="round"/>
<path d="M611.63,263.2 L612.63,268.3 H617.23 L618.23,263.2" fill="#fff" stroke="#141414" stroke-width="1.2" stroke-linejoin="round"/>
<path d="M619.43,263.2 L620.43,268.3 H625.03 L626.03,263.2" fill="#fff" stroke="#141414" stroke-width="1.2" stroke-linejoin="round"/>
<path d="M632.46,263.2 L633.46,268.3 H638.06 L639.06,263.2" fill="#fff" stroke="#141414" stroke-width="1.2" stroke-linejoin="round"/>
<path d="M640.26,263.2 L641.26,268.3 H645.86 L646.86,263.2" fill="#fff" stroke="#141414" stroke-width="1.2" stroke-linejoin="round"/>
<path d="M653.29,263.2 L654.29,268.3 H658.89 L659.89,263.2" fill="#fff" stroke="#141414" stroke-width="1.2" stroke-linejoin="round"/>
<path d="M661.09,263.2 L662.09,268.3 H666.69 L667.69,263.2" fill="#fff" stroke="#141414" stroke-width="1.2" stroke-linejoin="round"/>
<path d="M674.12,263.2 L675.12,268.3 H679.72 L680.72,263.2" fill="#fff" stroke="#141414" stroke-width="1.2" stroke-linejoin="round"/>
<path d="M681.92,263.2 L682.92,268.3 H687.52 L688.52,263.2" fill="#fff" stroke="#141414" stroke-width="1.2" stroke-linejoin="round"/>
<path d="M694.95,263.2 L695.95,268.3 H700.55 L701.55,263.2" fill="#fff" stroke="#141414" stroke-width="1.2" stroke-linejoin="round"/>
<path d="M702.75,263.2 L703.75,268.3 H708.35 L709.35,263.2" fill="#fff" stroke="#141414" stroke-width="1.2" stroke-linejoin="round"/>
<path d="M715.78,263.2 L716.78,268.3 H721.38 L722.38,263.2" fill="#fff" stroke="#141414" stroke-width="1.2" stroke-linejoin="round"/>
<path d="M723.58,263.2 L724.58,268.3 H729.18 L730.18,263.2" fill="#fff" stroke="#141414" stroke-width="1.2" stroke-linejoin="round"/>
<path d="M736.61,263.2 L737.61,268.3 H742.21 L743.21,263.2" fill="#fff" stroke="#141414" stroke-width="1.2" stroke-linejoin="round"/>
<path d="M744.41,263.2 L745.41,268.3 H750.01 L751.01,263.2" fill="#fff" stroke="#141414" stroke-width="1.2" stroke-linejoin="round"/>
<path d="M757.44,263.2 L758.44,268.3 H763.04 L764.04,263.2" fill="#fff" stroke="#141414" stroke-width="1.2" stroke-linejoin="round"/>
<path d="M765.24,263.2 L766.24,268.3 H770.84 L771.84,263.2" fill="#fff" stroke="#141414" stroke-width="1.2" stroke-linejoin="round"/>
<path d="M778.27,263.2 L779.27,268.3 H783.87 L784.87,263.2" fill="#fff" stroke="#141414" stroke-width="1.2" stroke-linejoin="round"/>
<path d="M786.07,263.2 L787.07,268.3 H791.67 L792.67,263.2" fill="#fff" stroke="#141414" stroke-width="1.2" stroke-linejoin="round"/>
<path d="M799.1,263.2 L800.1,268.3 H804.7 L805.7,263.2" fill="#fff" stroke="#141414" stroke-width="1.2" stroke-linejoin="round"/>
<path d="M806.9,263.2 L807.9,268.3 H812.5 L813.5,263.2" fill="#fff" stroke="#141414" stroke-width="1.2" stroke-linejoin="round"/>
<line x1="588" y1="267.6" x2="588" y2="318" stroke="#2a2a2a" stroke-width="1.3"/>
<line x1="816.8" y1="267.6" x2="816.8" y2="318" stroke="#2a2a2a" stroke-width="1.3"/>
<line x1="593.2" y1="314.9" x2="813" y2="314.9" stroke="#2a2a2a" stroke-width="1.5"/>
<polygon points="813,314.9 807.5,317 807.5,312.8" fill="#2a2a2a"/>
<polygon points="593.2,314.9 598.7,312.8 598.7,317" fill="#2a2a2a"/>
<text x="702.5" y="338.5" font-size="20.2" text-anchor="middle" fill="#141414" stroke="#141414" stroke-width="0.4">250mm(9.85 inch)</text>
<path d="M863,337.5 H885.8 V486 H862.2 Z" fill="#fff" stroke="#141414" stroke-width="1.3" stroke-linejoin="round"/>
<g fill="#141414">
<circle cx="867.2" cy="347.5" r="1.35"/>
<circle cx="871.97" cy="347.5" r="1.35"/>
<circle cx="876.74" cy="347.5" r="1.35"/>
<circle cx="881.51" cy="347.5" r="1.35"/>
<circle cx="867.2" cy="351.7" r="1.35"/>
<circle cx="871.97" cy="351.7" r="1.35"/>
<circle cx="876.74" cy="351.7" r="1.35"/>
<circle cx="881.51" cy="351.7" r="1.35"/>
<circle cx="867.2" cy="355.9" r="1.35"/>
<circle cx="871.97" cy="355.9" r="1.35"/>
<circle cx="876.74" cy="355.9" r="1.35"/>
<circle cx="881.51" cy="355.9" r="1.35"/>
<circle cx="867.2" cy="360.1" r="1.35"/>
<circle cx="871.97" cy="360.1" r="1.35"/>
<circle cx="876.74" cy="360.1" r="1.35"/>
<circle cx="881.51" cy="360.1" r="1.35"/>
<circle cx="867.2" cy="364.3" r="1.35"/>
<circle cx="871.97" cy="364.3" r="1.35"/>
<circle cx="876.74" cy="364.3" r="1.35"/>
<circle cx="881.51" cy="364.3" r="1.35"/>
<circle cx="867.2" cy="368.5" r="1.35"/>
<circle cx="871.97" cy="368.5" r="1.35"/>
<circle cx="876.74" cy="368.5" r="1.35"/>
<circle cx="881.51" cy="368.5" r="1.35"/>
<circle cx="867.2" cy="372.7" r="1.35"/>
<circle cx="871.97" cy="372.7" r="1.35"/>
<circle cx="876.74" cy="372.7" r="1.35"/>
<circle cx="881.51" cy="372.7" r="1.35"/>
<circle cx="867.2" cy="376.9" r="1.35"/>
<circle cx="871.97" cy="376.9" r="1.35"/>
<circle cx="876.74" cy="376.9" r="1.35"/>
<circle cx="881.51" cy="376.9" r="1.35"/>
<circle cx="867.2" cy="381.1" r="1.35"/>
<circle cx="871.97" cy="381.1" r="1.35"/>
<circle cx="876.74" cy="381.1" r="1.35"/>
<circle cx="881.51" cy="381.1" r="1.35"/>
<circle cx="867.2" cy="385.3" r="1.35"/>
<circle cx="871.97" cy="385.3" r="1.35"/>
<circle cx="876.74" cy="385.3" r="1.35"/>
<circle cx="881.51" cy="385.3" r="1.35"/>
<circle cx="867.2" cy="389.5" r="1.35"/>
<circle cx="871.97" cy="389.5" r="1.35"/>
<circle cx="876.74" cy="389.5" r="1.35"/>
<circle cx="881.51" cy="389.5" r="1.35"/>
</g>
<line x1="891.2" y1="337.5" x2="922.8" y2="337.5" stroke="#2a2a2a" stroke-width="1.2"/>
<line x1="891.2" y1="486" x2="922.8" y2="486" stroke="#2a2a2a" stroke-width="1.2"/>
<line x1="912" y1="339" x2="912" y2="484.5" stroke="#2a2a2a" stroke-width="1.2"/>
<polygon points="912,484.5 909.9,479 914.1,479" fill="#2a2a2a"/>
<polygon points="912,339 914.1,344.5 909.9,344.5" fill="#2a2a2a"/>
<text transform="translate(955.2,404) scale(0.966,1)" font-size="20.2" text-anchor="middle" fill="#141414" stroke="#141414" stroke-width="0.4">217mm</text>
<text transform="translate(956,428.4) scale(0.98,1)" font-size="20.2" text-anchor="middle" fill="#141414" stroke="#141414" stroke-width="0.4">(8.5 inch)</text>
<path d="M867,486 L865.6,494 H880.8 L877,486" fill="#fff" stroke="#141414" stroke-width="1.2" stroke-linejoin="round"/>
<rect x="865.6" y="494" width="15.2" height="8" fill="#fff" stroke="#141414" stroke-width="1.3"/>
<rect x="828.3" y="493.5" width="37.3" height="37.3" rx="1.5" fill="#fff" stroke="#141414" stroke-width="1.3"/>
<rect x="836.3" y="501.2" width="27.2" height="21.6" rx="1.5" fill="#fff" stroke="#141414" stroke-width="1.5"/>
<line x1="842" y1="501.5" x2="842" y2="522.5" stroke="#141414" stroke-width="1.0"/>
<rect x="865.6" y="502" width="18.1" height="19.5" rx="1" fill="#fff" stroke="#141414" stroke-width="1.3"/>
<rect x="840.5" y="525.2" width="18.2" height="10.4" rx="3.5" fill="#fff" stroke="#141414" stroke-width="1.3"/>
<ellipse cx="843.4" cy="530.6" rx="2" ry="3.6" fill="none" stroke="#141414" stroke-width="1.1"/>
<ellipse cx="849.6" cy="530.6" rx="2" ry="3.6" fill="none" stroke="#141414" stroke-width="1.1"/>
<ellipse cx="855.8" cy="530.6" rx="2" ry="3.6" fill="none" stroke="#141414" stroke-width="1.1"/>
<line x1="844.5" y1="523.6" x2="855" y2="523.6" stroke="#141414" stroke-width="1.0"/>
<line x1="802" y1="493.5" x2="825.6" y2="493.5" stroke="#2a2a2a" stroke-width="1.2"/>
<line x1="802" y1="530.8" x2="825.6" y2="530.8" stroke="#2a2a2a" stroke-width="1.2"/>
<line x1="806.7" y1="495" x2="806.7" y2="529.5" stroke="#2a2a2a" stroke-width="1.1"/>
<polygon points="806.7,529.5 804.9,525 808.5,525" fill="#2a2a2a"/>
<polygon points="806.7,495 808.5,499.5 804.9,499.5" fill="#2a2a2a"/>
<text transform="translate(743.2,505.6) scale(0.945,1)" font-size="20.2" text-anchor="middle" fill="#141414" stroke="#141414" stroke-width="0.4">55mm</text>
<text transform="translate(744,529.6) scale(0.969,1)" font-size="20.2" text-anchor="middle" fill="#141414" stroke="#141414" stroke-width="0.4">(2.2 inch)</text>
<line x1="844.7" y1="535.6" x2="844.7" y2="923.4" stroke="#141414" stroke-width="1.5"/>
<line x1="854.5" y1="535.6" x2="854.5" y2="923.4" stroke="#141414" stroke-width="1.5"/>
<g stroke="#141414" stroke-width="1.1">
<line x1="844.7" y1="538.91" x2="854.5" y2="538.91"/>
<line x1="844.7" y1="544.43" x2="854.5" y2="544.43"/>
<line x1="844.7" y1="549.95" x2="854.5" y2="549.95"/>
<line x1="844.7" y1="555.47" x2="854.5" y2="555.47"/>
<line x1="844.7" y1="560.99" x2="854.5" y2="560.99"/>
<line x1="844.7" y1="566.51" x2="854.5" y2="566.51"/>
<line x1="844.7" y1="572.03" x2="854.5" y2="572.03"/>
<line x1="844.7" y1="577.55" x2="854.5" y2="577.55"/>
<line x1="844.7" y1="583.07" x2="854.5" y2="583.07"/>
<line x1="844.7" y1="588.59" x2="854.5" y2="588.59"/>
<line x1="844.7" y1="594.11" x2="854.5" y2="594.11"/>
<line x1="844.7" y1="599.63" x2="854.5" y2="599.63"/>
<line x1="844.7" y1="605.15" x2="854.5" y2="605.15"/>
<line x1="844.7" y1="610.67" x2="854.5" y2="610.67"/>
<line x1="844.7" y1="616.19" x2="854.5" y2="616.19"/>
<line x1="844.7" y1="621.71" x2="854.5" y2="621.71"/>
<line x1="844.7" y1="627.23" x2="854.5" y2="627.23"/>
<line x1="844.7" y1="632.75" x2="854.5" y2="632.75"/>
<line x1="844.7" y1="638.27" x2="854.5" y2="638.27"/>
<line x1="844.7" y1="643.79" x2="854.5" y2="643.79"/>
<line x1="844.7" y1="649.31" x2="854.5" y2="649.31"/>
<line x1="844.7" y1="654.83" x2="854.5" y2="654.83"/>
<line x1="844.7" y1="660.35" x2="854.5" y2="660.35"/>
<line x1="844.7" y1="665.87" x2="854.5" y2="665.87"/>
<line x1="844.7" y1="671.39" x2="854.5" y2="671.39"/>
<line x1="844.7" y1="676.91" x2="854.5" y2="676.91"/>
<line x1="844.7" y1="682.43" x2="854.5" y2="682.43"/>
<line x1="844.7" y1="687.95" x2="854.5" y2="687.95"/>
<line x1="844.7" y1="693.47" x2="854.5" y2="693.47"/>
<line x1="844.7" y1="698.99" x2="854.5" y2="698.99"/>
<line x1="844.7" y1="704.51" x2="854.5" y2="704.51"/>
<line x1="844.7" y1="710.03" x2="854.5" y2="710.03"/>
<line x1="844.7" y1="715.55" x2="854.5" y2="715.55"/>
<line x1="844.7" y1="721.07" x2="854.5" y2="721.07"/>
<line x1="844.7" y1="726.59" x2="854.5" y2="726.59"/>
<line x1="844.7" y1="732.11" x2="854.5" y2="732.11"/>
<line x1="844.7" y1="737.63" x2="854.5" y2="737.63"/>
<line x1="844.7" y1="743.15" x2="854.5" y2="743.15"/>
<line x1="844.7" y1="748.67" x2="854.5" y2="748.67"/>
<line x1="844.7" y1="754.19" x2="854.5" y2="754.19"/>
<line x1="844.7" y1="759.71" x2="854.5" y2="759.71"/>
<line x1="844.7" y1="765.23" x2="854.5" y2="765.23"/>
<line x1="844.7" y1="770.75" x2="854.5" y2="770.75"/>
<line x1="844.7" y1="776.27" x2="854.5" y2="776.27"/>
<line x1="844.7" y1="781.79" x2="854.5" y2="781.79"/>
<line x1="844.7" y1="787.31" x2="854.5" y2="787.31"/>
<line x1="844.7" y1="792.83" x2="854.5" y2="792.83"/>
<line x1="844.7" y1="798.35" x2="854.5" y2="798.35"/>
<line x1="844.7" y1="803.87" x2="854.5" y2="803.87"/>
<line x1="844.7" y1="809.39" x2="854.5" y2="809.39"/>
<line x1="844.7" y1="814.91" x2="854.5" y2="814.91"/>
<line x1="844.7" y1="820.43" x2="854.5" y2="820.43"/>
<line x1="844.7" y1="825.95" x2="854.5" y2="825.95"/>
<line x1="844.7" y1="831.47" x2="854.5" y2="831.47"/>
<line x1="844.7" y1="836.99" x2="854.5" y2="836.99"/>
<line x1="844.7" y1="842.51" x2="854.5" y2="842.51"/>
<line x1="844.7" y1="848.03" x2="854.5" y2="848.03"/>
<line x1="844.7" y1="853.55" x2="854.5" y2="853.55"/>
<line x1="844.7" y1="859.07" x2="854.5" y2="859.07"/>
<line x1="844.7" y1="864.59" x2="854.5" y2="864.59"/>
<line x1="844.7" y1="870.11" x2="854.5" y2="870.11"/>
<line x1="844.7" y1="875.63" x2="854.5" y2="875.63"/>
<line x1="844.7" y1="881.15" x2="854.5" y2="881.15"/>
<line x1="844.7" y1="886.67" x2="854.5" y2="886.67"/>
<line x1="844.7" y1="892.19" x2="854.5" y2="892.19"/>
<line x1="844.7" y1="897.71" x2="854.5" y2="897.71"/>
<line x1="844.7" y1="903.23" x2="854.5" y2="903.23"/>
<line x1="844.7" y1="908.75" x2="854.5" y2="908.75"/>
<line x1="844.7" y1="914.27" x2="854.5" y2="914.27"/>
<line x1="844.7" y1="919.79" x2="854.5" y2="919.79"/>
</g>
<line x1="866" y1="521.5" x2="866" y2="553" stroke="#141414" stroke-width="1.3"/>
<line x1="875.9" y1="521.5" x2="875.9" y2="553" stroke="#141414" stroke-width="1.3"/>
<line x1="866" y1="553" x2="866" y2="923.4" stroke="#141414" stroke-width="1.5"/>
<line x1="875.9" y1="553" x2="875.9" y2="923.4" stroke="#141414" stroke-width="1.5"/>
<g stroke="#141414" stroke-width="1.1">
<line x1="866" y1="553.55" x2="875.9" y2="553.55"/>
<line x1="866" y1="559.07" x2="875.9" y2="559.07"/>
<line x1="866" y1="564.59" x2="875.9" y2="564.59"/>
<line x1="866" y1="570.11" x2="875.9" y2="570.11"/>
<line x1="866" y1="575.63" x2="875.9" y2="575.63"/>
<line x1="866" y1="581.15" x2="875.9" y2="581.15"/>
<line x1="866" y1="586.67" x2="875.9" y2="586.67"/>
<line x1="866" y1="592.19" x2="875.9" y2="592.19"/>
<line x1="866" y1="597.71" x2="875.9" y2="597.71"/>
<line x1="866" y1="603.23" x2="875.9" y2="603.23"/>
<line x1="866" y1="608.75" x2="875.9" y2="608.75"/>
<line x1="866" y1="614.27" x2="875.9" y2="614.27"/>
<line x1="866" y1="619.79" x2="875.9" y2="619.79"/>
<line x1="866" y1="625.31" x2="875.9" y2="625.31"/>
<line x1="866" y1="630.83" x2="875.9" y2="630.83"/>
<line x1="866" y1="636.35" x2="875.9" y2="636.35"/>
<line x1="866" y1="641.87" x2="875.9" y2="641.87"/>
<line x1="866" y1="647.39" x2="875.9" y2="647.39"/>
<line x1="866" y1="652.91" x2="875.9" y2="652.91"/>
<line x1="866" y1="658.43" x2="875.9" y2="658.43"/>
<line x1="866" y1="663.95" x2="875.9" y2="663.95"/>
<line x1="866" y1="669.47" x2="875.9" y2="669.47"/>
<line x1="866" y1="674.99" x2="875.9" y2="674.99"/>
<line x1="866" y1="680.51" x2="875.9" y2="680.51"/>
<line x1="866" y1="686.03" x2="875.9" y2="686.03"/>
<line x1="866" y1="691.55" x2="875.9" y2="691.55"/>
<line x1="866" y1="697.07" x2="875.9" y2="697.07"/>
<line x1="866" y1="702.59" x2="875.9" y2="702.59"/>
<line x1="866" y1="708.11" x2="875.9" y2="708.11"/>
<line x1="866" y1="713.63" x2="875.9" y2="713.63"/>
<line x1="866" y1="719.15" x2="875.9" y2="719.15"/>
<line x1="866" y1="724.67" x2="875.9" y2="724.67"/>
<line x1="866" y1="730.19" x2="875.9" y2="730.19"/>
<line x1="866" y1="735.71" x2="875.9" y2="735.71"/>
<line x1="866" y1="741.23" x2="875.9" y2="741.23"/>
<line x1="866" y1="746.75" x2="875.9" y2="746.75"/>
<line x1="866" y1="752.27" x2="875.9" y2="752.27"/>
<line x1="866" y1="757.79" x2="875.9" y2="757.79"/>
<line x1="866" y1="763.31" x2="875.9" y2="763.31"/>
<line x1="866" y1="768.83" x2="875.9" y2="768.83"/>
<line x1="866" y1="774.35" x2="875.9" y2="774.35"/>
<line x1="866" y1="779.87" x2="875.9" y2="779.87"/>
<line x1="866" y1="785.39" x2="875.9" y2="785.39"/>
<line x1="866" y1="790.91" x2="875.9" y2="790.91"/>
<line x1="866" y1="796.43" x2="875.9" y2="796.43"/>
<line x1="866" y1="801.95" x2="875.9" y2="801.95"/>
<line x1="866" y1="807.47" x2="875.9" y2="807.47"/>
<line x1="866" y1="812.99" x2="875.9" y2="812.99"/>
<line x1="866" y1="818.51" x2="875.9" y2="818.51"/>
<line x1="866" y1="824.03" x2="875.9" y2="824.03"/>
<line x1="866" y1="829.55" x2="875.9" y2="829.55"/>
<line x1="866" y1="835.07" x2="875.9" y2="835.07"/>
<line x1="866" y1="840.59" x2="875.9" y2="840.59"/>
<line x1="866" y1="846.11" x2="875.9" y2="846.11"/>
<line x1="866" y1="851.63" x2="875.9" y2="851.63"/>
<line x1="866" y1="857.15" x2="875.9" y2="857.15"/>
<line x1="866" y1="862.67" x2="875.9" y2="862.67"/>
<line x1="866" y1="868.19" x2="875.9" y2="868.19"/>
<line x1="866" y1="873.71" x2="875.9" y2="873.71"/>
<line x1="866" y1="879.23" x2="875.9" y2="879.23"/>
<line x1="866" y1="884.75" x2="875.9" y2="884.75"/>
<line x1="866" y1="890.27" x2="875.9" y2="890.27"/>
<line x1="866" y1="895.79" x2="875.9" y2="895.79"/>
<line x1="866" y1="901.31" x2="875.9" y2="901.31"/>
<line x1="866" y1="906.83" x2="875.9" y2="906.83"/>
<line x1="866" y1="912.35" x2="875.9" y2="912.35"/>
<line x1="866" y1="917.87" x2="875.9" y2="917.87"/>
<line x1="866" y1="923.39" x2="875.9" y2="923.39"/>
</g>
<path d="M844.7,923.4 A15.6,15.6 0 0 0 875.9,923.4" fill="none" stroke="#141414" stroke-width="1.5" stroke-linejoin="round"/>
<path d="M854.5,923.4 A5.8,5.8 0 0 0 866.1,923.4" fill="none" stroke="#141414" stroke-width="1.5" stroke-linejoin="round"/>
<g stroke="#141414" stroke-width="1.1">
<line x1="865.66" y1="925.62" x2="874.71" y2="929.37"/>
<line x1="864.4" y1="927.5" x2="871.33" y2="934.43"/>
<line x1="862.52" y1="928.76" x2="866.27" y2="937.81"/>
<line x1="860.3" y1="929.2" x2="860.3" y2="939"/>
<line x1="858.08" y1="928.76" x2="854.33" y2="937.81"/>
<line x1="856.2" y1="927.5" x2="849.27" y2="934.43"/>
<line x1="854.94" y1="925.62" x2="845.89" y2="929.37"/>
</g>
<text transform="translate(601.9,541.6) scale(0.97,1)" font-size="20.2" text-anchor="middle" fill="#141414" stroke="#141414" stroke-width="0.4">140mm</text>
<text x="602" y="565.5" font-size="20.2" text-anchor="middle" fill="#141414" stroke="#141414" stroke-width="0.4">(5.5 inch)</text>
<line x1="545.5" y1="571" x2="545.5" y2="594" stroke="#2a2a2a" stroke-width="1.2"/>
<line x1="657.8" y1="571" x2="657.8" y2="593.5" stroke="#2a2a2a" stroke-width="1.2"/>
<line x1="547" y1="574" x2="656.3" y2="574" stroke="#2a2a2a" stroke-width="1.2"/>
<polygon points="656.3,574 650.8,576.1 650.8,571.9" fill="#2a2a2a"/>
<polygon points="547,574 552.5,571.9 552.5,576.1" fill="#2a2a2a"/>
<line x1="657.8" y1="593.5" x2="680.4" y2="593.5" stroke="#2a2a2a" stroke-width="1.2"/>
<line x1="657.2" y1="730.4" x2="680.4" y2="730.4" stroke="#2a2a2a" stroke-width="1.2"/>
<line x1="675.8" y1="595" x2="675.8" y2="728.8" stroke="#2a2a2a" stroke-width="1.2"/>
<polygon points="675.8,728.8 673.7,723.3 677.9,723.3" fill="#2a2a2a"/>
<polygon points="675.8,595 677.9,600.5 673.7,600.5" fill="#2a2a2a"/>
<text transform="translate(722.1,643.8) scale(0.97,1)" font-size="20.2" text-anchor="middle" fill="#141414" stroke="#141414" stroke-width="0.4">189mm</text>
<text x="722" y="667.2" font-size="20.2" text-anchor="middle" fill="#141414" stroke="#141414" stroke-width="0.4">(7.4 inch)</text>
<rect x="545.5" y="593.8" width="112.4" height="136.6" rx="9.5" fill="#fff" stroke="#141414" stroke-width="1.4"/>
<rect x="587.5" y="614.5" width="28.8" height="27.4" rx="1" fill="none" stroke="#141414" stroke-width="1.3"/>
<circle cx="601.6" cy="686.6" r="24.2" fill="none" stroke="#141414" stroke-width="1.3"/>
<rect x="581.6" y="662.4" width="40" height="105.9" rx="1" fill="#fff" stroke="#141414" stroke-width="1.4"/>
<text x="637" y="836.7" font-size="13.8" text-anchor="middle" fill="#141414" stroke="#141414" stroke-width="0.3">85mm</text>
<text x="636.8" y="852.7" font-size="13.8" text-anchor="middle" fill="#141414" stroke="#141414" stroke-width="0.3">3.34inch</text>
<text x="764.7" y="845.9" font-size="13.8" text-anchor="middle" fill="#141414" stroke="#141414" stroke-width="0.3">110mm</text>
<text x="767.3" y="862.1" font-size="13.8" text-anchor="middle" fill="#141414" stroke="#141414" stroke-width="0.3">4.33inch</text>
<text x="551" y="899.6" font-size="13.8" text-anchor="middle" fill="#141414" stroke="#141414" stroke-width="0.3">45mm</text>
<text x="551" y="916" font-size="13.8" text-anchor="middle" fill="#141414" stroke="#141414" stroke-width="0.3">1.8inch</text>
<text x="709" y="981" font-size="13.8" text-anchor="middle" fill="#141414" stroke="#141414" stroke-width="0.3">183mm(7.2inch)</text>
<line x1="593.8" y1="856.2" x2="593.8" y2="871.2" stroke="#2a2a2a" stroke-width="1.2"/>
<line x1="685.3" y1="843.9" x2="685.3" y2="858.2" stroke="#2a2a2a" stroke-width="1.2"/>
<line x1="596.6" y1="864.7" x2="681.8" y2="853" stroke="#2a2a2a" stroke-width="1.1"/>
<polygon points="681.8,853 675.63,855.87 675.09,851.9" fill="#2a2a2a"/>
<polygon points="596.6,864.7 602.77,861.83 603.31,865.8" fill="#2a2a2a"/>
<line x1="690" y1="852.4" x2="812.2" y2="881.6" stroke="#2a2a2a" stroke-width="1.1"/>
<polygon points="812.2,881.6 805.41,882.03 806.34,878.14" fill="#2a2a2a"/>
<polygon points="690,852.4 696.79,851.97 695.86,855.86" fill="#2a2a2a"/>
<line x1="814.5" y1="874.5" x2="814.5" y2="898" stroke="#2a2a2a" stroke-width="1.2"/>
<line x1="814.5" y1="903.5" x2="814.5" y2="966" stroke="#2a2a2a" stroke-width="1.2"/>
<line x1="572.6" y1="876.7" x2="594" y2="876.7" stroke="#2a2a2a" stroke-width="1.2"/>
<line x1="572.6" y1="930" x2="594" y2="930" stroke="#2a2a2a" stroke-width="1.2"/>
<line x1="580.4" y1="879" x2="580.4" y2="927.8" stroke="#2a2a2a" stroke-width="1.1"/>
<polygon points="580.4,927.8 578.5,921.8 582.3,921.8" fill="#2a2a2a"/>
<polygon points="580.4,879 582.3,885 578.5,885" fill="#2a2a2a"/>
<line x1="602.8" y1="948" x2="602.8" y2="966" stroke="#2a2a2a" stroke-width="1.2"/>
<line x1="605.7" y1="963.4" x2="812.9" y2="961.7" stroke="#2a2a2a" stroke-width="1.1"/>
<polygon points="812.9,961.7 806.42,963.75 806.38,959.75" fill="#2a2a2a"/>
<polygon points="605.7,963.4 612.18,961.35 612.22,965.35" fill="#2a2a2a"/>
<path d="M595,876.7 L685.7,860.8 C686.42,861.12 687.12,861.23 690,862.75 C692.88,864.27 697.58,867.41 703,869.9 C708.42,872.39 714.92,875.43 722.5,877.7 C730.08,879.97 738.75,882.15 748.5,883.5 C758.25,884.85 773.42,885.13 781,885.8 C788.58,886.47 790.1,886.47 794,887.5 C797.9,888.53 801.15,889.83 804.4,892 C807.65,894.17 811.98,899.08 813.5,900.5 C813.08,901.92 813.17,905.43 811,909 C808.83,912.57 805.5,917.9 800.5,921.9 C795.5,925.9 788.58,929.75 781,933 C773.42,936.25 763.67,939.02 755,941.4 C746.33,943.77 737.67,945.73 729,947.25 C720.33,948.77 709.5,949.84 703,950.5 C696.5,951.16 699.17,951.2 690,951.2 C680.83,951.2 659.33,951.05 648,950.5 C636.67,949.95 628.83,948.6 622,947.9 C615.17,947.2 610.17,946.78 607,946.3 C603.83,945.82 603.97,945.82 603,945 C602.03,944.18 601.28,943.3 601.2,941.4 C601.12,939.5 601.2,936.63 602.5,933.6 C603.8,930.57 605.97,926.47 609,923.2 C612.03,919.93 617.78,917.03 620.7,914 C623.62,910.97 625.42,907.8 626.5,905 C627.58,902.2 627.95,899.7 627.2,897.2 C626.45,894.7 622.87,891.2 622,890 Z" fill="#fff" stroke="#141414" stroke-width="1.3" stroke-linejoin="round"/>
<path d="M595,876.7 L594,928.5 Q594.5,931.5 602,934" fill="none" stroke="#141414" stroke-width="1.2" stroke-linejoin="round"/>
<path d="M606.4,942.6 C609,943.1 615.07,944.65 622,945.6 C628.93,946.55 636.67,947.73 648,948.3 C659.33,948.87 680.83,949 690,949 C699.17,949 696.5,948.97 703,948.3 C709.5,947.63 720.33,946.52 729,945 C737.67,943.48 746.33,941.57 755,939.2 C763.67,936.83 773.58,933.95 781,930.8 C788.42,927.65 794.7,924.1 799.5,920.3 C804.3,916.5 807.62,911.05 809.8,908 C811.98,904.95 812.13,903 812.6,902" fill="none" stroke="#141414" stroke-width="1.7" stroke-linejoin="round"/>
<path d="M612,941.8 C618,942.55 635,945.43 648,946.3 C661,947.17 676.5,947.55 690,947 C703.5,946.45 718.17,944.63 729,943 C739.83,941.37 746.33,939.57 755,937.2 C763.67,934.83 773.75,931.9 781,928.8 C788.25,925.7 793.9,922.23 798.5,918.6 C803.1,914.97 806.92,908.93 808.6,907" fill="none" stroke="#141414" stroke-width="0.8" stroke-linejoin="round"/>
<path d="M619.4,926.5 C622.83,926.83 633.07,927.97 640,928.5 C646.93,929.03 652.67,929.38 661,929.7 C669.33,930.02 683,930.4 690,930.4 C697,930.4 696.5,930.35 703,929.7 C709.5,929.05 721.42,927.8 729,926.5 C736.58,925.2 742,923.97 748.5,921.9 C755,919.83 762.58,916.92 768,914.1 C773.42,911.28 777.1,908.47 781,905 C784.9,901.53 789.67,895.25 791.4,893.3" fill="none" stroke="#141414" stroke-width="1.2" stroke-linejoin="round"/>
<path d="M621.4,898.5 Q623.8,898 624.4,901 Q624.6,906.5 621.8,912 Q620.4,905 621.4,898.5 Z" fill="none" stroke="#141414" stroke-width="1.0" stroke-linejoin="round"/>
<line x1="652.5" y1="868" x2="752.4" y2="938.2" stroke="#cf2a36" stroke-width="1.3"/>
<polygon points="752.4,938.2 745,935.69 747.53,932.09" fill="#cf2a36"/>
<polygon points="652.5,868 659.9,870.51 657.37,874.11" fill="#cf2a36"/>
<text x="643.5" y="907.6" font-size="13.4" fill="#cf2a36" stroke="#cf2a36" stroke-width="0.3">140mm</text>
<text x="642.6" y="923.9" font-size="13.5" fill="#cf2a36" stroke="#cf2a36" stroke-width="0.3">5.51inch</text>
</svg>
</body></html>
